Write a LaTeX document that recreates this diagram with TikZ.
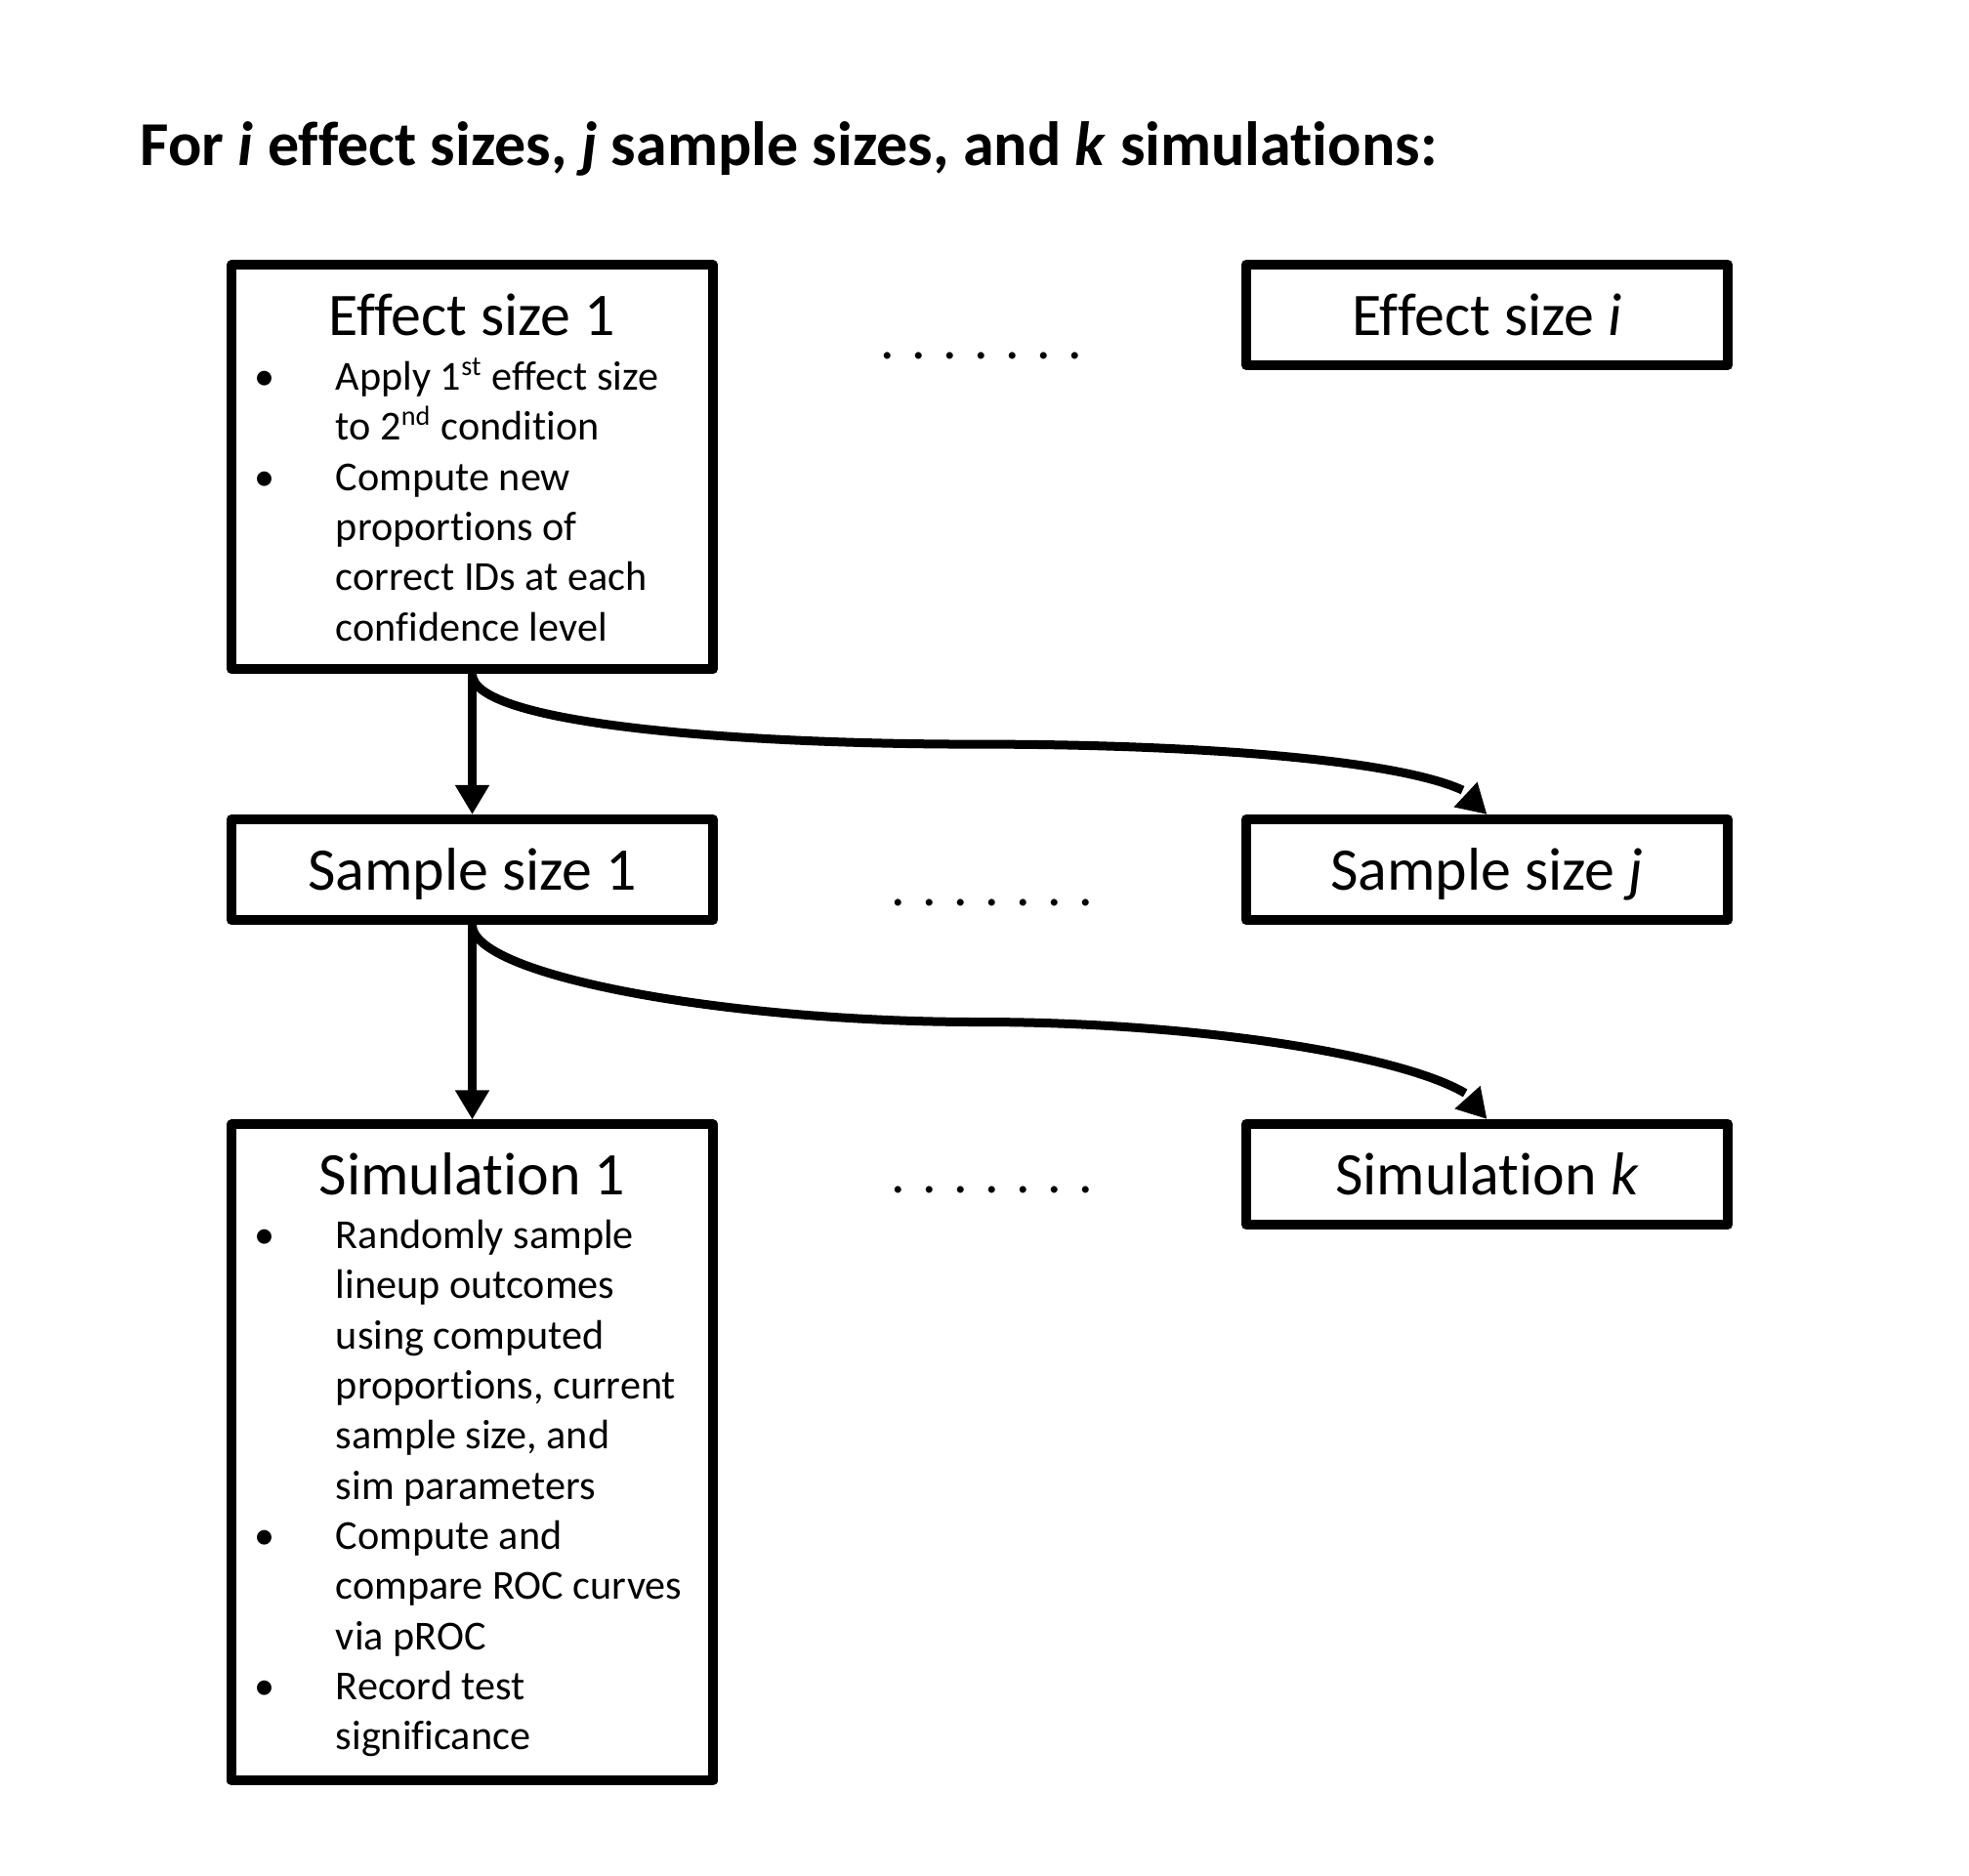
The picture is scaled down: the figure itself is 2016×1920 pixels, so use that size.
\documentclass[tikz,border=0pt]{standalone}
\usepackage{fontspec}
\setmainfont{Carlito}[Ligatures={NoCommon,NoRequired,NoContextual}]
\usetikzlibrary{arrows.meta, bending, calc}

\newcommand{\titlefont}{\fontsize{18.2}{22}\selectfont}
\newcommand{\boxfont}{\fontsize{17.6}{21}\selectfont}
\newcommand{\listfont}{\fontsize{12}{14.6}\selectfont}
\newcommand{\bulletline}[1]{\hbox{\makebox[1.07cm][l]{\hspace{0.24cm}•}#1}}
\newcommand{\contline}[1]{\hbox{\hspace{1.07cm}#1}}

\tikzstyle{bigbox}=[draw=black,line width=0.1cm,line join=round,inner sep=0pt,minimum width=4.93cm,anchor=base,text height=0.715cm]
\tikzstyle{smallbox}=[draw=black,line width=0.1cm,line join=round,inner sep=0pt,minimum width=4.93cm,minimum height=1.03cm,text height=0.45cm,text depth=0.04cm,font=\boxfont]
\tikzstyle{mainedge}=[{Triangle[length=0.3cm,width=0.33cm]}-,line width=0.09cm]
\tikzstyle{curveedge}=[-{Triangle[length=0.3cm,width=0.33cm,flex]},line width=0.09cm]
\tikzstyle{gapdots}=[anchor=base,inner sep=0pt,font=\fontsize{16.4}{20}\selectfont]

\begin{document}
\begin{tikzpicture}[x=0.01cm,y=-0.01cm]
\useasboundingbox (0,0) rectangle (2016,1920);
\node[anchor=base west,inner sep=0pt,font=\titlefont] (title) at (143,169) {\textbf{For \textit{i} effect sizes, \textit{j} sample sizes, and \textit{k} simulations:}};

% 1st row
\node[bigbox,text depth=3.42cm] (eff_1) at (483.5,343) {\parbox[t]{4.93cm}{\centering\boxfont Effect size 1\par
  \listfont\vspace{0.05cm}
  \bulletline{Apply 1\textsuperscript{st} effect size}
  \contline{to 2\textsuperscript{nd} condition}
  \bulletline{Compute new}
  \contline{proportions of}
  \contline{correct IDs at each}
  \contline{confidence level}}};
\node[smallbox] (eff_i) at (1522.5,322.5) {Effect size \textit{i}};
\node[gapdots] (dots_1) at (1005,367) {. . . . . . .};

% 2nd row
\node[smallbox] (samp_1) at (483.5,890.5) {Sample size 1} edge[mainedge] (eff_1);
\node[smallbox] (samp_j) at (1522.5,890.5) {Sample size \textit{j}};
\node[gapdots] (dots_2) at (1016,927) {. . . . . . .};
\coordinate (bend_1) at ($(eff_1.south)!0.5!(samp_j.north)$);
\draw[curveedge] (eff_1.south) .. controls +(0,50) and +(-260,0) .. (bend_1) .. controls +(260,0) and +(0,-50) .. (samp_j.north);

% 3rd row
\node[bigbox,text depth=6.00cm] (sim_1) at (483.5,1223) {\parbox[t]{4.93cm}{\centering\boxfont Simulation 1\par
  \listfont\vspace{0.04cm}
  \bulletline{Randomly sample}
  \contline{lineup outcomes}
  \contline{using computed}
  \contline{proportions, current}
  \contline{sample size, and}
  \contline{sim parameters}
  \bulletline{Compute and}
  \contline{compare ROC curves}
  \contline{via pROC}
  \bulletline{Record test}
  \contline{significance}}} edge[mainedge] (samp_1);
\node[smallbox] (sim_k) at (1522.5,1202.5) {Simulation \textit{k}};
\node[gapdots] (dots_3) at (1016,1221) {. . . . . . .};
\coordinate (bend_2) at ($(samp_1.south)!0.5!(sim_k.north)$);
\draw[curveedge] (samp_1.south) .. controls +(0,52) and +(-260,0) .. (bend_2) .. controls +(260,0) and +(0,-52) .. (sim_k.north);

\end{tikzpicture}
\end{document}
